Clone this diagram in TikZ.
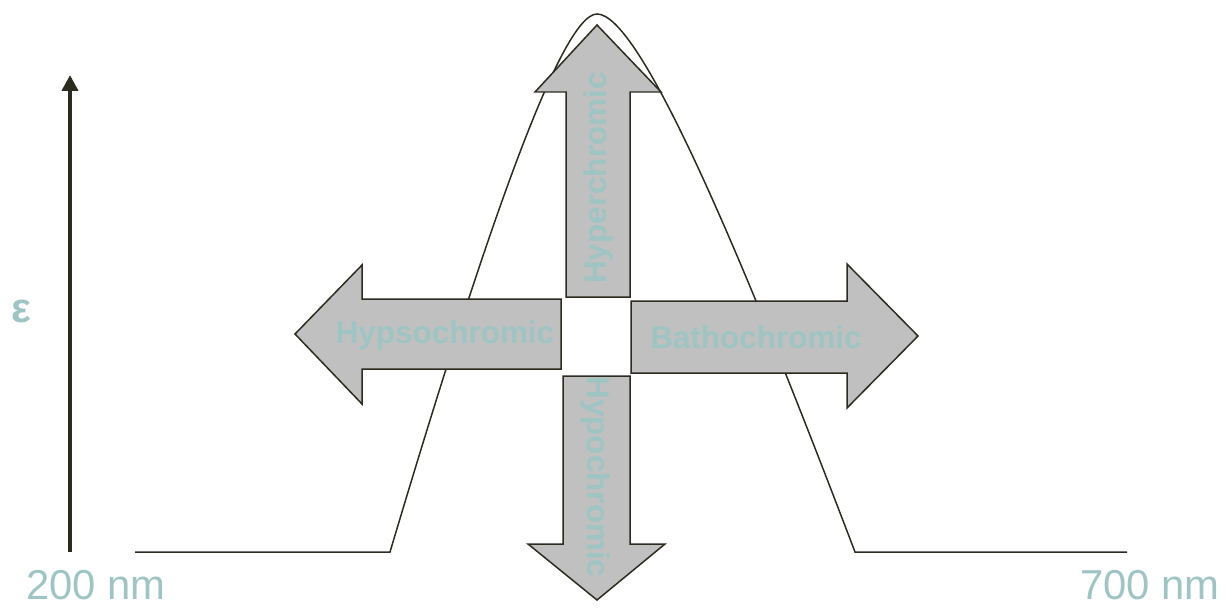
\documentclass[tikz,border=0pt]{standalone}
\usepackage{fontspec}
\setmainfont{Liberation Sans}
\usetikzlibrary{arrows.meta}
\definecolor{ink}{RGB}{45,42,32}
\definecolor{teal}{RGB}{158,197,195}
\definecolor{fillgrey}{RGB}{192,192,192}
\tikzset{
  shiftarrow/.style={draw=ink, line width=0.85pt, fill=fillgrey, line join=miter},
  arrowlabel/.style={text=teal, font=\fontsize{17.9}{20}\selectfont\bfseries, inner sep=0pt},
  axislabel/.style={text=teal, font=\fontsize{23.8}{26}\selectfont, inner sep=0pt},
  curve/.style={draw=ink, line width=0.85pt}
}
\begin{document}
\begin{tikzpicture}[x=0.02cm, y=-0.02cm]
\useasboundingbox (0,0) rectangle (1226,608);
% absorption curve
\draw[curve] (135,552) -- (390,552)
  .. controls (480,250) and (560,14) .. (597,14)
  .. controls (640,14) and (740,250) .. (855,552) -- (1127,552);
% axis
\coordinate (axb) at (70,552);
\coordinate (axt) at (70,75);
\draw[ink, line width=2.5pt, -{Triangle[width=9pt,length=9pt]}] (axb) -- (axt);
% up arrow
\draw[shiftarrow] (566,297) -- (566,92) -- (535,92) -- (597,25) -- (661,92) -- (630,92) -- (630,297) -- cycle;
% left arrow
\draw[shiftarrow] (561,299) -- (362,299) -- (362,265) -- (295,334) -- (362,404) -- (362,369) -- (561,369) -- cycle;
% down arrow
\draw[shiftarrow] (563,376) -- (630,376) -- (630,544) -- (665,544) -- (597,600) -- (528,544) -- (563,544) -- cycle;
% right arrow
\draw[shiftarrow] (631,301) -- (847,301) -- (847,264) -- (918,336) -- (847,408) -- (847,373) -- (631,373) -- cycle;
% labels
\node[arrowlabel, rotate=90] (hyper) at (598,178) {Hyperchromic};
\node[arrowlabel] (hypso) at (445,335) {Hypsochromic};
\node[arrowlabel] (batho) at (756,337) {Bathochromic};
\node[arrowlabel, rotate=-90] (hypo) at (596,477) {Hypochromic};
\node[axislabel, font=\fontsize{23.8}{26}\selectfont\bfseries] (eps) at (21,311) {ε};
\node[axislabel, anchor=west] (l200) at (26,585) {200 nm};
\node[axislabel, anchor=west] (l700) at (1080,585) {700 nm};
\end{tikzpicture}
\end{document}
